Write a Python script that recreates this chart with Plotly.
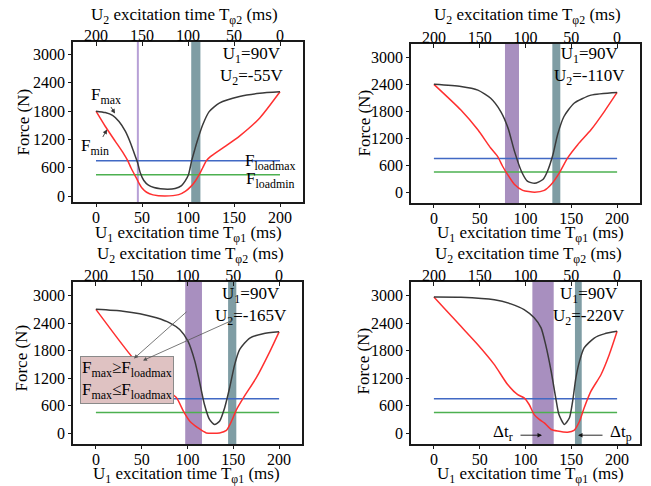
import plotly.graph_objects as go

W, H = 651, 486
FONT = "Liberation Serif, Times New Roman, Times, serif"

# ---------------- data ----------------
ticks_t = [0, 50, 100, 150, 200]
ticks_F = [0, 600, 1200, 1800, 2400, 3000]
load_t = [0, 200]
F_loadmax = [750, 750]
F_loadmin = [450, 450]
voltage_labels = ["U<sub>1</sub>=90V<br>U<sub>2</sub>=-55V",
                  "U<sub>1</sub>=90V<br>U<sub>2</sub>=-110V",
                  "U<sub>1</sub>=90V<br>U<sub>2</sub>=-165V",
                  "U<sub>1</sub>=90V<br>U<sub>2</sub>=-220V"]

# Panel 1: U2 = -55 V
t_max_55 = [0, 10, 18, 25, 32, 38, 42, 45, 48, 52, 57, 63, 70, 78, 86, 93, 97, 100.5, 104, 107, 110, 116, 123, 134, 156, 178, 200]
F_max_55 = [1800, 1770, 1710, 1580, 1370, 1100, 880, 720, 500, 330, 230, 180, 155, 145, 160, 220, 320, 450, 750, 960, 1160, 1510, 1790, 1970, 2110, 2180, 2210]
t_min_55 = [0, 10, 21, 30, 34.5, 38, 42, 46, 50, 55, 62, 75, 90, 97, 103, 108, 112, 116, 120, 124, 138, 156, 178, 200]
F_min_55 = [1800, 1480, 1160, 900, 750, 600, 450, 300, 170, 80, 25, 0, 30, 100, 200, 320, 450, 600, 750, 830, 1020, 1270, 1655, 2210]

# Panel 2: U2 = -110 V
t_max_110 = [0, 29.5, 48, 62, 73, 81, 88, 95.5, 102, 110, 119, 124, 130, 135, 142, 153, 171.5, 200]
F_max_110 = [2400, 2350, 2270, 2090, 1795, 1425, 910, 470, 250, 200, 285, 470, 840, 1280, 1685, 1980, 2160, 2220]
t_min_110 = [0, 29.5, 48, 62, 69.5, 75, 80.5, 88, 97, 110, 120.5, 128, 137, 146, 157, 171.5, 186, 200]
F_min_110 = [2400, 1830, 1390, 985, 800, 580, 395, 175, 45, 5, 45, 175, 435, 765, 1060, 1390, 1795, 2220]

# Panel 3: U2 = -165 V
t_max_165 = [0, 29.5, 48, 66, 80.5, 91.5, 100.5, 108, 113, 118.5, 124, 129.5, 135, 140.5, 146, 151.5, 157, 168, 182.5, 200]
F_max_165 = [2700, 2660, 2605, 2515, 2405, 2260, 2005, 1570, 1135, 625, 300, 190, 260, 550, 990, 1495, 1825, 2075, 2170, 2210]
t_min_165 = [0, 40.5, 60, 75, 88, 95.5, 102.5, 111.5, 120.5, 135, 142.5, 148, 153.5, 161, 175, 190, 200]
F_min_165 = [2700, 1640, 1260, 980, 770, 480, 260, 115, 5, 5, 60, 260, 515, 770, 1205, 1785, 2210]

# Panel 4: U2 = -220 V
t_max_220 = [0, 29.5, 66, 84, 98.5, 109.5, 117, 122, 128, 133, 136.5, 142.5, 148, 151.5, 155, 159, 164, 175, 186, 200]
F_max_220 = [2970, 2965, 2910, 2820, 2695, 2515, 2295, 1930, 1350, 770, 405, 190, 335, 700, 1205, 1570, 1860, 2075, 2165, 2220]
t_min_220 = [0, 11, 29.5, 48, 66, 80.5, 91.5, 98.5, 104, 109.5, 115, 120.5, 128, 135, 146, 153, 159, 164, 171.5, 182.5, 191.5, 200]
F_min_220 = [2970, 2730, 2330, 1930, 1495, 1060, 840, 770, 625, 405, 300, 225, 80, 45, 20, 60, 260, 550, 915, 1280, 1715, 2220]

# excitation windows (ms on T_phi1 axis)
purple_bands = [(45, 46), (77.6, 92.9), (97.5, 115.8), (107.5, 130.8)]
gray_bands = [(103.5, 113.5), (129.3, 138.0), (144.3, 153.3), (154.0, 161.4)]

panels = [
    (t_max_55, F_max_55, t_min_55, F_min_55),
    (t_max_110, F_max_110, t_min_110, F_min_110),
    (t_max_165, F_max_165, t_min_165, F_min_165),
    (t_max_220, F_max_220, t_min_220, F_min_220),
]

# ---------------- layout geometry (window pixels) ----------------
frames = [(73, 303, 42, 203), (411, 640, 44, 204), (73, 302, 283, 446), (411, 640, 283, 446)]
y_ranges = [[-130, 3270], [-240, 3300], [-240, 3300], [-240, 3300]]


def px(x, y):
    return x / W, 1 - y / H


fig = go.Figure()
layout = dict(width=W, height=H, margin=dict(l=0, r=0, t=0, b=0, pad=0),
              plot_bgcolor="white", paper_bgcolor="white", showlegend=False,
              font=dict(family=FONT, size=16, color="black"))

axis_common = dict(showline=True, linecolor="#1a1a1a", linewidth=1.5, showgrid=False,
                   zeroline=False, ticks="outside", ticklen=3, tickwidth=1,
                   tickcolor="#1a1a1a", tickfont=dict(family=FONT, size=16, color="black"))

shapes = []
for i, (tmx, fmx, tmn, fmn) in enumerate(panels):
    k = i + 1
    xb = f"x{2*k-1}" if k > 1 else "x"
    xt = f"x{2*k}"
    yy = f"y{k}" if k > 1 else "y"
    xb_name = "xaxis" + (str(2*k-1) if k > 1 else "")
    xt_name = "xaxis" + str(2*k)
    y_name = "yaxis" + (str(k) if k > 1 else "")
    x0, x1, y0, y1 = frames[i]
    a0, b1 = px(x0, y1)
    a1, b0 = px(x1, y0)
    layout[xb_name] = dict(axis_common, domain=[a0, a1], anchor=yy, range=[-25, 225],
                           tickvals=ticks_t, mirror=True, ticklabelstandoff=-3)
    layout[xt_name] = dict(axis_common, overlaying=xb, anchor=yy, side="top",
                           range=[225, -25], tickvals=ticks_t, showline=False,
                           ticks="inside", ticklen=4, ticklabelstandoff=-3)
    layout[y_name] = dict(axis_common, domain=[b1, b0], anchor=xb, range=y_ranges[i],
                          tickvals=ticks_F, mirror=True)

    # bands
    pa, pb = purple_bands[i]
    if i == 0:
        shapes.append(dict(type="line", xref=xb, yref=f"{yy} domain", x0=(pa + pb) / 2,
                           x1=(pa + pb) / 2, y0=0, y1=1, layer="below",
                           line=dict(color="#b7a0d6", width=2)))
    else:
        shapes.append(dict(type="rect", xref=xb, yref=f"{yy} domain", x0=pa, x1=pb,
                           y0=0, y1=1, layer="below", line=dict(width=0),
                           fillcolor="#a88fbf"))
    ga, gb = gray_bands[i]
    shapes.append(dict(type="rect", xref=xb, yref=f"{yy} domain", x0=ga, x1=gb,
                       y0=0, y1=1, layer="below", line=dict(width=0),
                       fillcolor="#7f9da4"))

    # empty trace so the reversed U2 (top) axis is drawn
    fig.add_trace(go.Scatter(x=load_t, y=[None, None], mode="lines", xaxis=xt, yaxis=yy,
                             hoverinfo="skip", name="T_phi2"))
    fig.add_trace(go.Scatter(x=load_t, y=F_loadmax, mode="lines", xaxis=xb, yaxis=yy,
                             line=dict(color="#4169c4", width=1.5), name="F_loadmax"))
    fig.add_trace(go.Scatter(x=load_t, y=F_loadmin, mode="lines", xaxis=xb, yaxis=yy,
                             line=dict(color="#4cb050", width=1.5), name="F_loadmin"))
    fig.add_trace(go.Scatter(x=tmn, y=fmn, mode="lines", xaxis=xb, yaxis=yy,
                             line=dict(color="#ff3030", width=1.5, shape="spline", smoothing=0.6),
                             name="F_min"))
    fig.add_trace(go.Scatter(x=tmx, y=fmx, mode="lines", xaxis=xb, yaxis=yy,
                             line=dict(color="#3a3a3a", width=1.5, shape="spline", smoothing=0.6),
                             name="F_max"))

layout["shapes"] = shapes

ann = []


def text(x, y, s, size=17, **kw):
    px_, py_ = px(x, y)
    d = dict(x=px_, y=py_, xref="paper", yref="paper", text=s, showarrow=False,
             xanchor="center", yanchor="middle", font=dict(family=FONT, size=size, color="black"))
    d.update(kw)
    ann.append(d)


def arrow(hx, hy, tx, ty, color="#333333", width=0.9):
    px_, py_ = px(hx, hy)
    ann.append(dict(x=px_, y=py_, xref="paper", yref="paper", text="", showarrow=True,
                    ax=tx - hx, ay=ty - hy, arrowhead=2, arrowsize=1.0,
                    arrowwidth=width, arrowcolor=color, standoff=0, startstandoff=0))


top_title = "U<sub>2</sub> excitation time T<sub>\u03c62</sub> (ms)"
bot_title = "U<sub>1</sub> excitation time T<sub>\u03c61</sub> (ms)"
for (cx, cy) in [(184, 16), (527, 16), (190, 256), (528, 256)]:
    text(cx, cy, top_title)
for (cx, cy) in [(188, 235), (530, 235), (186, 477), (530, 477)]:
    text(cx, cy, bot_title)
for (cx, cy) in [(23, 123), (364, 123), (22, 360), (364, 362)]:
    text(cx, cy, "Force (N)", textangle=-90)

for (cx, cy), s in zip([(251, 66), (589, 66), (251, 307), (589, 307)], voltage_labels):
    text(cx, cy, s, size=17)

# panel 1 labels
text(106, 96, "F<sub>max</sub>")
arrow(115, 114, 110, 106)
text(95, 148, "F<sub>min</sub>")
arrow(107, 130, 102, 139)
text(270, 163, "F<sub>loadmax</sub>")
text(270, 181, "F<sub>loadmin</sub>")

# panel 3 box
text(127, 382, "F<sub>max</sub>\u2265F<sub>loadmax</sub><br>F<sub>max</sub>\u2264F<sub>loadmax</sub>",
     bgcolor="#dfc2c2", bordercolor="#8a8a8a", borderwidth=1, borderpad=1, align="left")
arrow(134, 360, 188, 312, color="#555555", width=0.8)
arrow(143, 362, 234, 321, color="#555555", width=0.8)

# panel 4 delta-t labels
text(503, 435, "\u0394t<sub>r</sub>")
arrow(542, 437, 519, 437, color="#111111")
text(621, 435, "\u0394t<sub>p</sub>")
arrow(578, 437, 604, 437, color="#111111")

layout["annotations"] = ann
fig.update_layout(**layout)
# remove the browser's default 8 px body margin so the figure fills the window
fig.write_html("out.html", config={"displayModeBar": False},
               post_script="document.body.style.margin='0px';")
